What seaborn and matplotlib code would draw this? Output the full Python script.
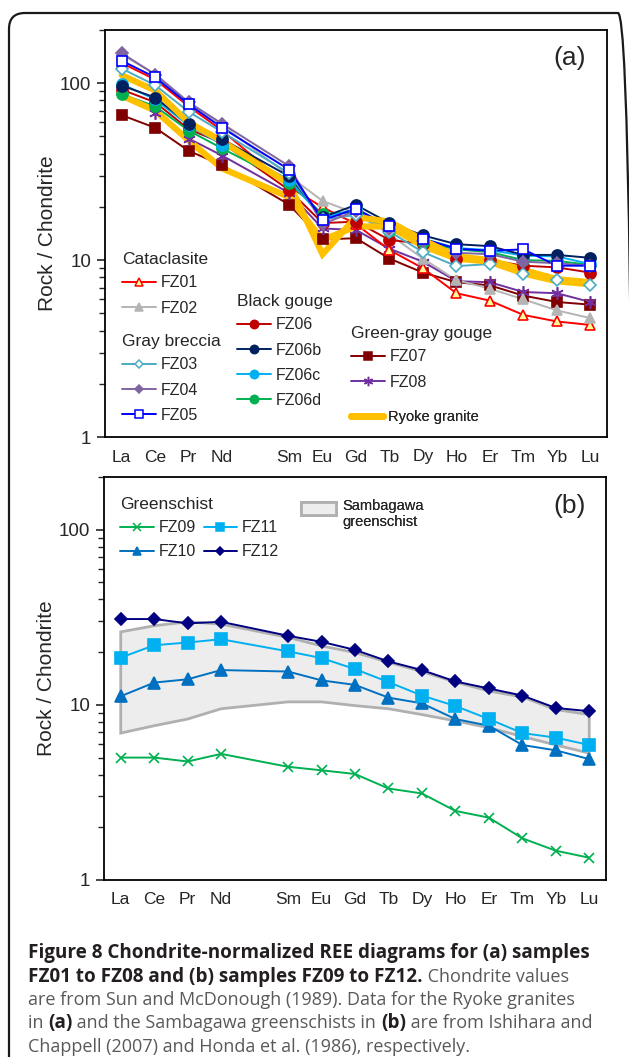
import numpy as np
import pandas as pd
import seaborn as sns
import matplotlib
matplotlib.use("Agg")
import matplotlib.pyplot as plt
from matplotlib.lines import Line2D
from matplotlib.patches import Patch, FancyBboxPatch, Rectangle
from matplotlib.legend_handler import HandlerPatch
from matplotlib.ticker import FixedLocator, LogLocator, NullFormatter
from matplotlib.transforms import IdentityTransform

# ---------------- data ----------------
all_ree = ['La', 'Ce', 'Pr', 'Nd', 'Pm', 'Sm', 'Eu', 'Gd', 'Tb', 'Dy', 'Ho', 'Er', 'Tm', 'Yb', 'Lu']
elements = ['La', 'Ce', 'Pr', 'Nd', 'Sm', 'Eu', 'Gd', 'Tb', 'Dy', 'Ho', 'Er', 'Tm', 'Yb', 'Lu']

FZ01 = [130, 105, 74, 54, 26, 19.9, 16.0, 11.4, 9.0, 6.5, 5.9, 4.9, 4.5, 4.3]
FZ02 = [145, 113, 78, 58, 30, 21.6, 18.4, 14.0, 10.2, 7.7, 6.9, 6.0, 5.2, 4.7]
FZ03 = [121, 97.5, 69, 53, 31, 17.0, 18.0, 14.5, 11.1, 9.25, 9.5, 8.3, 7.7, 7.2]
FZ04 = [148, 112, 78, 59, 34, 16.0, 19.0, 15.0, 12.8, 11.0, 10.8, 9.8, 9.6, 9.3]
FZ05 = [134, 108, 76, 56, 32.5, 16.8, 19.5, 15.5, 13.2, 11.6, 11.3, 11.5, 9.3, 9.3]
FZ06 = [92, 78, 55, 46, 24.9, 16.2, 16.5, 13.0, 12.4, 10.1, 10.0, 9.3, 9.1, 8.5]
FZ06b = [97, 83, 59, 48.3, 29.8, 17.5, 20.5, 16.2, 13.8, 12.3, 12.0, 10.7, 10.7, 10.3]
FZ06c = [99, 81, 57.7, 45, 28.5, 17.3, 19.5, 15.5, 13.2, 11.7, 11.4, 10.6, 10.5, 9.5]
FZ06d = [86.7, 74, 54, 42.8, 27.3, 18.2, 18.7, 14.7, 12.7, 11.5, 11.1, 10.0, 9.9, 9.4]
FZ07 = [66, 56, 41.5, 34.4, 20.6, 13.1, 13.3, 10.2, 8.5, 7.5, 7.2, 6.3, 5.8, 5.6]
FZ08 = [89, 68, 48.7, 39, 24, 15.1, 14.8, 11.6, 9.8, 7.6, 7.5, 6.6, 6.5, 5.8]
ryoke_a = [111, 91, 60, 47, 27, 10.8, 17.5, 16.5, 13.0, 10.5, 10.0, 8.8, 7.8, 7.5]
ryoke_b = [85, 70, 47.5, 33, 22.7, 13.0, 15.5, 15.5, 12.0, 10.2, 9.8, 8.4, 7.6, 7.3]

FZ09 = [5.0, 5.0, 4.75, 5.25, 4.43, 4.23, 4.03, 3.33, 3.12, 2.48, 2.27, 1.73, 1.47, 1.34]
FZ10 = [11.2, 13.4, 14.0, 15.8, 15.5, 13.8, 13.0, 11.0, 10.2, 8.3, 7.6, 5.9, 5.5, 4.9]
FZ11 = [18.6, 21.9, 22.7, 23.7, 20.2, 18.5, 16.0, 13.5, 11.3, 9.85, 8.3, 6.9, 6.5, 5.9]
FZ12 = [30.9, 30.9, 29.2, 29.8, 24.8, 22.9, 20.6, 17.7, 15.8, 13.6, 12.4, 11.3, 9.6, 9.2]
samb_upper = [26.1, 28.3, 29.8, 28.9, 24.3, 21.7, 19.9, 17.5, 15.5, 13.5, 12.0, 11.1, 9.4, 8.8]
samb_lower = [6.9, 7.6, 8.3, 9.5, 10.4, 10.4, 9.9, 9.5, 8.8, 8.1, 7.4, 6.6, 5.9, 5.3]

xpos = np.array([all_ree.index(e) for e in elements])

# ---------------- style ----------------
sns.set_style("ticks")
plt.rcParams['font.family'] = ['Liberation Sans', 'DejaVu Sans']

W, H = 629, 1057
fig = plt.figure(figsize=(W / 100, H / 100), dpi=100)
fig.patch.set_facecolor('white')

axa = fig.add_axes([105 / W, 1 - 437 / H, 502 / W, 407 / H])
axb = fig.add_axes([104 / W, 1 - 880 / H, 502 / W, 403 / H])

# styles: (color, marker, markersize, facecolor)
styles_a = {
    'FZ01': ('#ff0000', '^', 7, '#ffff99'),
    'FZ02': ('#b4b4b4', '^', 7, '#b4b4b4'),
    'FZ03': ('#4bacc6', 'D', 6, 'white'),
    'FZ04': ('#8064a2', 'D', 6, '#8064a2'),
    'FZ05': ('#0000ff', 's', 7, 'white'),
    'FZ06': ('#c00000', 'o', 8, '#c00000'),
    'FZ06b': ('#002060', 'o', 8, '#002060'),
    'FZ06c': ('#00b0f0', 'o', 8, '#00b0f0'),
    'FZ06d': ('#00b050', 'o', 8, '#00b050'),
    'FZ07': ('#800000', 's', 7, '#800000'),
    'FZ08': ('#7030a0', (6, 2, 0), 9, '#7030a0'),
}
series_a = {'FZ01': FZ01, 'FZ02': FZ02, 'FZ03': FZ03, 'FZ04': FZ04, 'FZ05': FZ05,
            'FZ06': FZ06, 'FZ06b': FZ06b, 'FZ06c': FZ06c, 'FZ06d': FZ06d,
            'FZ07': FZ07, 'FZ08': FZ08}

RYOKE = '#ffc000'
draw_order = ['FZ07', 'FZ08', 'FZ01', 'FZ02', 'FZ06', 'FZ06d', 'FZ06c', 'FZ06b', 'FZ03', 'FZ04', 'FZ05']

# lines of samples (below the granite band)
for i, name in enumerate(draw_order):
    c, m, ms, fc = styles_a[name]
    sns.lineplot(x=xpos, y=series_a[name], ax=axa, color=c, lw=1.4,
                 legend=False, zorder=2 + i * 0.01)

# Ryoke granite thick lines
for vals in (ryoke_a, ryoke_b):
    sns.lineplot(x=xpos, y=vals, ax=axa, color=RYOKE, lw=4.5, zorder=2.5,
                 solid_joinstyle='miter', legend=False)

# sample markers on top
for i, name in enumerate(draw_order):
    c, m, ms, fc = styles_a[name]
    sns.lineplot(x=xpos, y=series_a[name], ax=axa, color=c, linestyle='none', marker=m,
                 markersize=ms, markerfacecolor=fc, markeredgecolor=c,
                 markeredgewidth=1.2, legend=False, zorder=3 + i * 0.01)

# panel b
styles_b = {
    'FZ09': ('#00b050', 'x', 7, '#00b050'),
    'FZ10': ('#0070c0', '^', 8, '#0070c0'),
    'FZ11': ('#00b0f0', 's', 8, '#00b0f0'),
    'FZ12': ('#000080', 'D', 6, '#000080'),
}
series_b = {'FZ09': FZ09, 'FZ10': FZ10, 'FZ11': FZ11, 'FZ12': FZ12}

band_x = np.concatenate([xpos, xpos[::-1]])
band_y = np.concatenate([samb_upper, samb_lower[::-1]])
axb.fill(band_x, band_y, facecolor='#ededed', edgecolor='#b0b0b0', lw=2, zorder=1)

for name in ['FZ09', 'FZ10', 'FZ11', 'FZ12']:
    c, m, ms, fc = styles_b[name]
    sns.lineplot(x=xpos, y=series_b[name], ax=axb, color=c, lw=1.4, marker=m,
                 markersize=ms, markerfacecolor=fc, markeredgecolor=c,
                 markeredgewidth=1.2, legend=False, zorder=3)

# ---------------- axes formatting ----------------
for ax, xpad in ((axa, 9), (axb, 8.5)):
    ax.set_yscale('log')
    ax.set_ylim(1, 200)
    ax.set_xlim(-0.5, 14.5)
    ax.yaxis.set_major_locator(FixedLocator([1, 10, 100]))
    ax.set_yticklabels(['1', '10', '100'])
    ax.yaxis.set_minor_locator(LogLocator(base=10, subs=np.arange(2, 10)))
    ax.yaxis.set_minor_formatter(NullFormatter())
    ax.set_xticks(xpos)
    ax.set_xticklabels(elements)
    ax.tick_params(axis='x', length=0, labelsize=12.5, pad=xpad)
    ax.tick_params(axis='y', which='major', length=6, width=1.2, direction='out',
                   labelsize=13.5, pad=4)
    ax.tick_params(axis='y', which='minor', length=4, width=1.0, direction='out')
    for sp in ax.spines.values():
        sp.set_visible(True)
        sp.set_linewidth(1.3)
        sp.set_color('black')
    ax.set_xlabel('')
    ax.set_ylabel('Rock / Chondrite', fontsize=15)
    ax.yaxis.set_label_coords(-0.096, 0.5)
    ax.grid(False)

axa.text(0.926, 0.931, '(a)', transform=axa.transAxes, ha='center', va='center', fontsize=19)
axb.text(0.928, 0.928, '(b)', transform=axb.transAxes, ha='center', va='center', fontsize=19)

# ---------------- legends ----------------
def handle(name, styles, ms_scale=0.75):
    c, m, ms, fc = styles[name]
    return Line2D([], [], color=c, lw=1.4, marker=m, markersize=ms * ms_scale,
                  markerfacecolor=fc, markeredgecolor=c, markeredgewidth=1.1, label=name)

leg_kw = dict(loc='upper left', frameon=False, fontsize=11.5, title_fontsize=12.5,
              alignment='left', handlelength=2.1, handletextpad=0.3, labelspacing=0.64,
              borderpad=0, borderaxespad=0)

def add_leg(ax, names, styles, title, anchor, **extra):
    kw = dict(leg_kw)
    kw.update(extra)
    lg = ax.legend(handles=[handle(n, styles) for n in names], title=title,
                   bbox_to_anchor=anchor, **kw)
    lg._legend_box.sep = 6
    ax.add_artist(lg)
    return lg

def fx(px, left=105, width=502):
    return (px - left) / width

def fy(py, top=30, height=407):
    return 1 - (py - top) / height

add_leg(axa, ['FZ01', 'FZ02'], styles_a, 'Cataclasite', (fx(122), fy(252)))
add_leg(axa, ['FZ03', 'FZ04', 'FZ05'], styles_a, 'Gray breccia', (fx(122), fy(334)))
add_leg(axa, ['FZ06', 'FZ06b', 'FZ06c', 'FZ06d'], styles_a, 'Black gouge', (fx(237), fy(294)))
add_leg(axa, ['FZ07', 'FZ08'], styles_a, 'Green-gray gouge', (fx(351), fy(326)))
ry = axa.legend(handles=[Line2D([], [], color=RYOKE, lw=5.0, label='Ryoke granite')],
                loc='upper left', bbox_to_anchor=(fx(351), fy(410)), frameon=False,
                fontsize=10.5, handlelength=2.2, handletextpad=0.35, borderpad=0,
                borderaxespad=0)
axa.add_artist(ry)

gb = axb.legend(handles=[handle(n, styles_b) for n in ['FZ09', 'FZ10', 'FZ11', 'FZ12']],
                title='Greenschist', bbox_to_anchor=(fx(120, 104), fy(497, 477, 403)),
                ncol=2, columnspacing=0.5, **{**leg_kw, 'labelspacing': 0.55})
gb._legend_box.sep = 6
axb.add_artist(gb)


def upper_patch(legend, orig_handle, xdescent, ydescent, width, height, fontsize):
    return Rectangle((-xdescent, -ydescent + 0.42 * fontsize), width, height)


sb = axb.legend(handles=[Patch(facecolor='#ededed', edgecolor='#b0b0b0', lw=2,
                               label='Sambagawa\ngreenschist')],
                loc='upper left', bbox_to_anchor=(fx(301, 104), fy(499, 477, 403)),
                frameon=False, fontsize=10.5, handlelength=2.4, handleheight=1.05,
                handletextpad=0.45, borderpad=0, borderaxespad=0,
                handler_map={Patch: HandlerPatch(patch_func=upper_patch)})
axb.add_artist(sb)

# ---------------- outer frame ----------------
frame = FancyBboxPatch((9, -60), 625, H - 13 + 60,
                       boxstyle="round,pad=0,rounding_size=16",
                       transform=IdentityTransform(), facecolor='none',
                       edgecolor='#1a1a1a', lw=1.6, zorder=0)
fig.add_artist(frame)

# ---------------- caption ----------------
BOLD_C = '#231f20'
NORM_C = '#58595b'
cap_font = ['Open Sans', 'DejaVu Sans']
lines = [
    [("Figure 8 Chondrite-normalized REE diagrams for (a) samples", True)],
    [("FZ01 to FZ08 and (b) samples FZ09 to FZ12.", True), (" Chondrite values", False)],
    [("are from Sun and McDonough (1989). Data for the Ryoke granites", False)],
    [("in ", False), ("(a)", True), (" and the Sambagawa greenschists in ", False), ("(b)", True),
     (" are from Ishihara and", False)],
    [("Chappell (2007) and Honda et al. (1986), respectively.", False)],
]
line_y = [953, 977, 1000, 1023, 1047]
renderer = fig.canvas.get_renderer()
for pieces, ly in zip(lines, line_y):
    x_px = 28
    for txt, bold in pieces:
        t = fig.text(x_px / W, 1 - ly / H, txt, ha='left', va='center',
                     fontsize=13.6 if bold else 13.0,
                     family=cap_font, fontweight='bold' if bold else 'normal',
                     color=BOLD_C if bold else NORM_C)
        bb = t.get_window_extent(renderer)
        x_px = bb.x1

fig.savefig('out.png', dpi=100)
